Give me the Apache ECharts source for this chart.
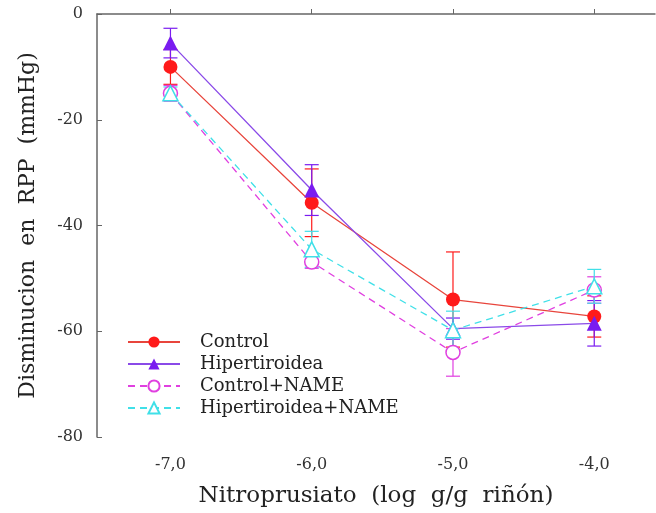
<!DOCTYPE html>
<html><head><meta charset="utf-8">
<script src="https://cdn.jsdelivr.net/npm/echarts@6/dist/echarts.min.js"></script>
<style>html,body{margin:0;padding:0;background:#fff}#c{width:656px;height:513px}</style>
</head><body><div id="c"></div>
<script>
const xValues = [-7, -6, -5, -4];
const xTickLabels = ['-7,0', '-6,0', '-5,0', '-4,0'];
const yTickValues = [0, -20, -40, -60, -80];
const seriesNames = ['Control', 'Hipertiroidea', 'Control+NAME', 'Hipertiroidea+NAME'];
const control = [-10, -35.7, -54, -57.2];
const controlErr = [3.3, 6.4, 9, 3.9];
const hiper = [-5.5, -33.3, -59.5, -58.5];
const hiperErr = [2.8, 4.8, 2, 4.3];
const controlName = [-15, -46.9, -64, -52.2];
const controlNameErr = [1.5, 1.2, 4.5, 2.5];
const hiperName = [-15, -44.5, -59.8, -51.5];
const hiperNameErr = [1.2, 3.4, 3.6, 3.2];

const colors = ['#ff1a1a', '#7a1cf0', '#e040e0', '#40e0e8'];
const lineColors = ['#e8453c', '#8a4ae8', '#e040e0', '#40e0e8'];
const values = [control, hiper, controlName, hiperName];
const errs = [controlErr, hiperErr, controlNameErr, hiperNameErr];
const symbols = ['circle', 'triangle', 'circle', 'triangle'];
const filled = [true, true, false, false];
const dashed = [false, false, true, true];
const FONT = 'DejaVu Serif';

const series = [];
values.forEach((vals, i) => {
  series.push({
    type: 'custom',
    name: seriesNames[i] + ' err',
    z: 1,
    silent: true,
    data: xValues.map((x, k) => [x, vals[k], errs[i][k]]),
    renderItem: function (params, api) {
      const x = api.value(0), y = api.value(1), e = api.value(2);
      const top = api.coord([x, y + e]);
      const bot = api.coord([x, y - e]);
      const hw = 7;
      const st = { stroke: colors[i], lineWidth: 1.2 };
      return { type: 'group', children: [
        { type: 'line', shape: { x1: top[0], y1: top[1], x2: bot[0], y2: bot[1] }, style: st },
        { type: 'line', shape: { x1: top[0] - hw, y1: top[1], x2: top[0] + hw, y2: top[1] }, style: st },
        { type: 'line', shape: { x1: bot[0] - hw, y1: bot[1], x2: bot[0] + hw, y2: bot[1] }, style: st }
      ]};
    }
  });
});
values.forEach((vals, i) => {
  series.push({
    type: 'line',
    name: seriesNames[i],
    z: 3,
    data: xValues.map((x, k) => [x, vals[k]]),
    symbol: symbols[i],
    symbolSize: symbols[i] === 'triangle' ? 15 : 14,
    showAllSymbol: true,
    lineStyle: { color: lineColors[i], width: 1.3, type: dashed[i] ? [7, 5] : 'solid' },
    itemStyle: filled[i] ? { color: colors[i], borderWidth: 0 } : { color: '#fff', borderColor: colors[i], borderWidth: 1.5 },
    emphasis: { disabled: true },
    animation: false
  });
});

const chart = echarts.init(document.getElementById('c'));
chart.setOption({
  animation: false,
  backgroundColor: '#fff',
  grid: { left: 97, top: 14, width: 558, height: 424, containLabel: false },
  legend: {
    data: seriesNames,
    orient: 'vertical',
    left: 122,
    top: 328,
    itemWidth: 52,
    itemHeight: 14,
    itemGap: 4,
    textStyle: { fontFamily: FONT, fontSize: 18, color: '#222', padding: [0, 0, 0, 15] }
  },
  xAxis: {
    type: 'value',
    min: -7.52,
    max: -3.57,
    name: 'Nitroprusiato  (log  g/g  riñón)',
    nameLocation: 'middle',
    nameGap: 48,
    nameTextStyle: { fontFamily: FONT, fontSize: 23, color: '#222' },
    axisLine: { lineStyle: { color: '#666', width: 1.5 } },
    axisTick: { inside: true, length: 5, customValues: xValues, lineStyle: { color: '#666' } },
    axisLabel: { customValues: xValues, margin: 20, fontFamily: FONT, fontSize: 16, color: '#333',
      formatter: v => xTickLabels[xValues.indexOf(Math.round(v))] },
    splitLine: { show: false }
  },
  yAxis: {
    type: 'value',
    min: -80,
    max: 0,
    interval: 20,
    name: 'Disminucion  en  RPP  (mmHg)',
    nameLocation: 'middle',
    nameGap: 58,
    nameRotate: 90,
    nameTextStyle: { fontFamily: FONT, fontSize: 22, color: '#222' },
    axisLine: { show: true, lineStyle: { color: '#666', width: 1.5 } },
    axisTick: { inside: true, length: 5, lineStyle: { color: '#666' } },
    axisLabel: { margin: 14, fontFamily: FONT, fontSize: 16, color: '#333' },
    splitLine: { show: false }
  },
  series: series
});
</script></body></html>
